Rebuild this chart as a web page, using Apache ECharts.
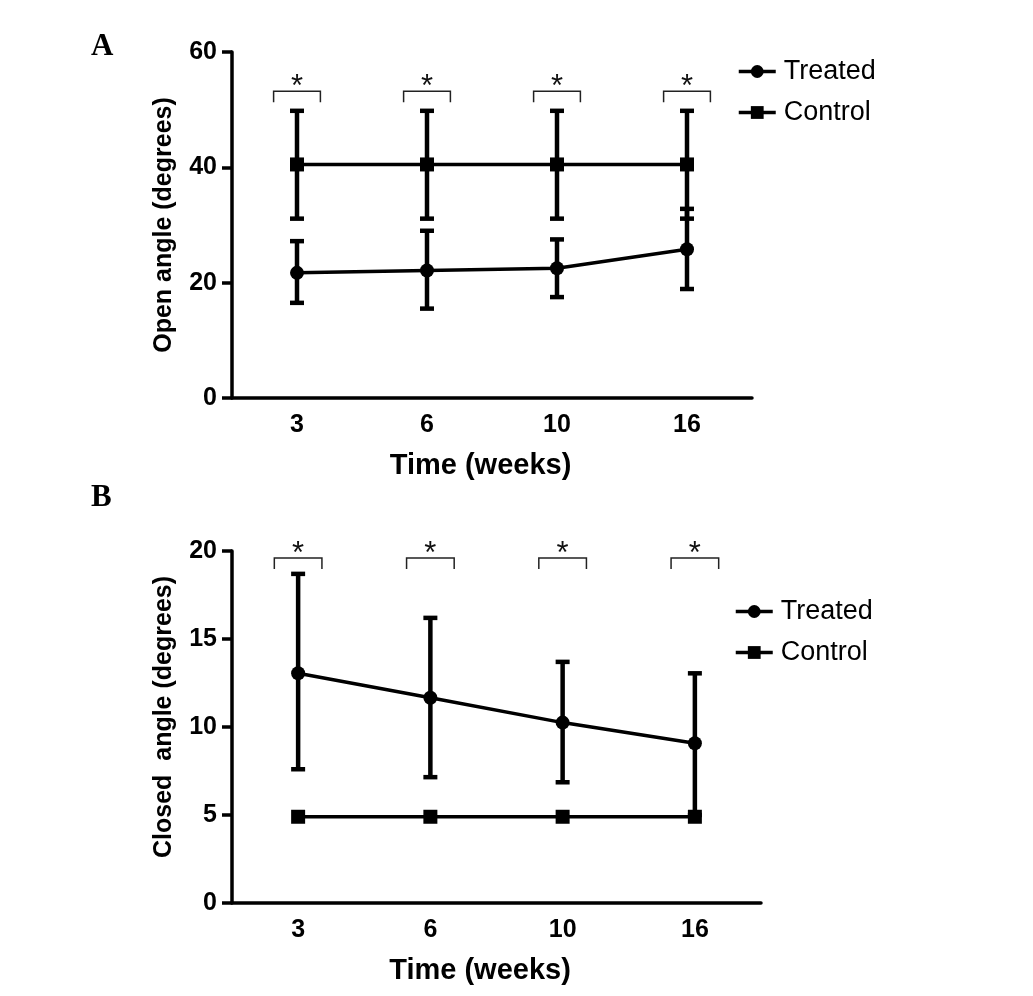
<!DOCTYPE html>
<html>
<head>
<meta charset="utf-8">
<script src="https://cdn.jsdelivr.net/npm/echarts@6/dist/echarts.min.js"></script>
<style>
html,body{margin:0;padding:0;background:#fff;}
#chart{width:1033px;height:996px;}
</style>
</head>
<body>
<div id="chart"></div>
<script>
// ---- data ----
var weeks = ['3', '6', '10', '16'];

var openTreated   = [21.7, 22.1, 22.5, 25.8];
var openTreatedLo = [16.5, 15.5, 17.5, 18.9];
var openTreatedHi = [27.2, 29.0, 27.5, 32.8];
var openControl   = [40.5, 40.5, 40.5, 40.5];
var openControlLo = [31.1, 31.1, 31.1, 31.1];
var openControlHi = [49.8, 49.8, 49.8, 49.8];
var openSigLevel  = [53.2, 53.2, 53.2, 53.2];

var closedTreated   = [13.05, 11.66, 10.25, 9.08];
var closedTreatedLo = [7.6, 7.15, 6.86, 5.0];
var closedTreatedHi = [18.7, 16.2, 13.7, 13.05];
var closedControl   = [4.9, 4.9, 4.9, 4.9];
var closedSigLevel  = [19.6, 19.6, 19.6, 19.6];

var openTicks = [0, 20, 40, 60];
var closedTicks = [0, 5, 10, 15, 20];

// ---- helpers ----
var FONT = '"Liberation Sans", Arial, sans-serif';
function errData(lo, hi) { return weeks.map(function (w, i) { return [w, lo[i], hi[i]]; }); }
function sigData(lv) { return weeks.map(function (w, i) { return [w, lv[i]]; }); }

function renderErr(params, api) {
  var x = api.value(0);
  var pLo = api.coord([x, api.value(1)]);
  var pHi = api.coord([x, api.value(2)]);
  var hw = 7;
  var st = { stroke: '#000', lineWidth: 4.5, fill: null };
  return {
    type: 'group',
    children: [
      { type: 'line', shape: { x1: pLo[0], y1: pLo[1], x2: pHi[0], y2: pHi[1] }, style: st },
      { type: 'line', shape: { x1: pHi[0] - hw, y1: pHi[1], x2: pHi[0] + hw, y2: pHi[1] }, style: st },
      { type: 'line', shape: { x1: pLo[0] - hw, y1: pLo[1], x2: pLo[0] + hw, y2: pLo[1] }, style: st }
    ]
  };
}

function renderSig(params, api) {
  var x = api.value(0);
  var p = api.coord([x, api.value(1)]);
  var bw = api.size([1, 0])[0] * 0.18;
  return {
    type: 'group',
    children: [
      { type: 'polyline',
        shape: { points: [[p[0] - bw, p[1] + 11], [p[0] - bw, p[1]], [p[0] + bw, p[1]], [p[0] + bw, p[1] + 11]] },
        style: { stroke: '#222', lineWidth: 1.5, fill: null } },
      { type: 'text', x: p[0], y: p[1] - 4,
        style: { text: '*', font: '31px ' + FONT, fill: '#111', align: 'center', verticalAlign: 'middle',
                 textAlign: 'center', textVerticalAlign: 'middle' } }
    ]
  };
}

function xAxisDef(gridIndex, padRight) {
  return {
    type: 'category', gridIndex: gridIndex, data: weeks, boundaryGap: true,
    name: 'Time (weeks)', nameLocation: 'middle', nameGap: 53,
    nameTextStyle: { fontFamily: FONT, fontWeight: 'bold', fontSize: 29, color: '#000', padding: [0, padRight, 0, 0] },
    axisLine: { lineStyle: { color: '#000', width: 3.5 } },
    axisTick: { alignWithLabel: true, length: 9, lineStyle: { color: '#000', width: 3.5 } },
    axisLabel: { fontFamily: FONT, fontWeight: 'bold', fontSize: 25, color: '#000', margin: 15 },
    splitLine: { show: false }
  };
}
function yAxisDef(gridIndex, name, max, interval, padLeft) {
  return {
    type: 'value', gridIndex: gridIndex, min: 0, max: max, interval: interval,
    name: name, nameLocation: 'middle', nameGap: 55,
    nameTextStyle: { fontFamily: FONT, fontWeight: 'bold', fontSize: 25, color: '#000', padding: [0, 0, 0, padLeft] },
    axisLine: { show: true, lineStyle: { color: '#000', width: 3.5 } },
    axisTick: { show: true, length: 10, lineStyle: { color: '#000', width: 3.5 } },
    axisLabel: { fontFamily: FONT, fontWeight: 'bold', fontSize: 25, color: '#000', margin: 15 },
    splitLine: { show: false }
  };
}
function lineSeries(name, data, symbol, idx) {
  return {
    type: 'line', name: name, data: data, xAxisIndex: idx, yAxisIndex: idx,
    symbol: symbol, symbolSize: 14, showSymbol: true,
    itemStyle: { color: '#000' }, lineStyle: { color: '#000', width: 3.5 },
    z: 5, animation: false
  };
}
function legendDef(left, top) {
  return {
    orient: 'vertical', left: left, top: top, padding: 0, itemWidth: 37, itemHeight: 16, itemGap: 12,
    data: ['Treated', 'Control'], selectedMode: false,
    textStyle: { fontFamily: FONT, fontSize: 27, color: '#000', lineHeight: 29, padding: [0, 0, 0, 3] },
    lineStyle: { width: 3.5, color: '#000' }
  };
}

var chart = echarts.init(document.getElementById('chart'));
chart.setOption({
  backgroundColor: '#fff',
  animation: false,
  grid: [
    { left: 232, top: 52, width: 520, height: 346 },
    { left: 232, top: 551, width: 529, height: 352 }
  ],
  legend: [legendDef(737, 57), legendDef(734, 597)],
  xAxis: [xAxisDef(0, 23), xAxisDef(1, 33)],
  yAxis: [
    yAxisDef(0, 'Open angle (degrees)', openTicks[openTicks.length - 1], openTicks[1] - openTicks[0], 0),
    yAxisDef(1, 'Closed  angle (degrees)', closedTicks[closedTicks.length - 1], closedTicks[1] - closedTicks[0], 20)
  ],
  graphic: [
    { type: 'text', left: 91, top: 31, style: { text: 'A', font: 'bold 31px "Liberation Serif", "Times New Roman", serif', fill: '#000' } },
    { type: 'text', left: 91, top: 482, style: { text: 'B', font: 'bold 31px "Liberation Serif", "Times New Roman", serif', fill: '#000' } }
  ],
  series: [
    { type: 'custom', name: 'errOpenT', xAxisIndex: 0, yAxisIndex: 0, data: errData(openTreatedLo, openTreatedHi), renderItem: renderErr, z: 3, silent: true },
    { type: 'custom', name: 'errOpenC', xAxisIndex: 0, yAxisIndex: 0, data: errData(openControlLo, openControlHi), renderItem: renderErr, z: 3, silent: true },
    { type: 'custom', name: 'sigOpen', xAxisIndex: 0, yAxisIndex: 0, data: sigData(openSigLevel), renderItem: renderSig, z: 3, silent: true, clip: false },
    lineSeries('Treated', openTreated, 'circle', 0),
    lineSeries('Control', openControl, 'rect', 0),
    { type: 'custom', name: 'errClosedT', xAxisIndex: 1, yAxisIndex: 1, data: errData(closedTreatedLo, closedTreatedHi), renderItem: renderErr, z: 3, silent: true },
    { type: 'custom', name: 'sigClosed', xAxisIndex: 1, yAxisIndex: 1, data: sigData(closedSigLevel), renderItem: renderSig, z: 3, silent: true, clip: false },
    lineSeries('Treated', closedTreated, 'circle', 1),
    lineSeries('Control', closedControl, 'rect', 1)
  ]
});
</script>
</body>
</html>
